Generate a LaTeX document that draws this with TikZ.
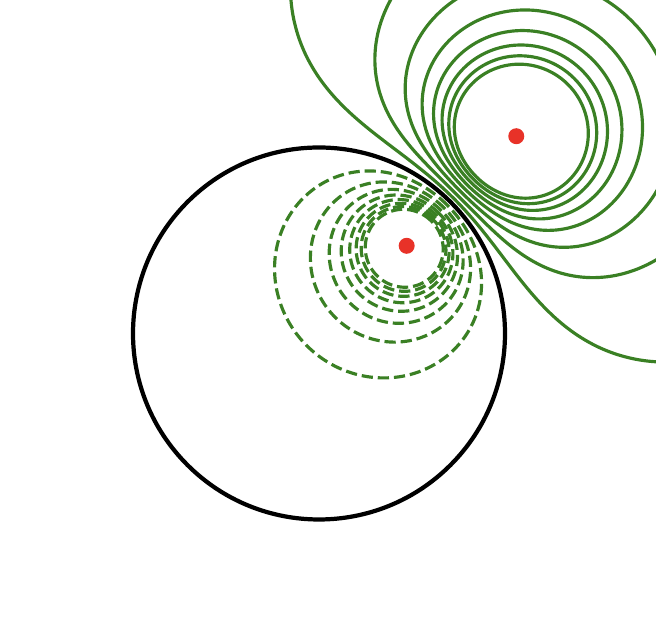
\documentclass[tikz,border=0pt]{standalone}
\definecolor{cgreen}{RGB}{58,128,36}
\definecolor{cred}{RGB}{232,50,40}
\tikzset{
  solidc/.style={draw=cgreen, line width=1.8pt},
  dashc/.style={draw=cgreen, line width=1.8pt, dash pattern=on 6.4pt off 2.8pt},
  spherec/.style={draw=black, line width=2.4pt},
  charge/.style={circle, fill=cred, inner sep=0pt, minimum size=0.32cm},
  declare function={
    Ss(\a,\b,\t) = \a + (\b-\a)*(1-cos(\t))/2;
    Rtwo(\s,\v) = (2/3)*\s/(1-\v*\s);
    Xs(\s,\v) = (Rtwo(\s,\v)^2 - \s^2 - 25/36)/(5/3);
    Ys(\s,\v) = sqrt(max(0, \s^2 - Xs(\s,\v)^2));
    Rone(\s,\m) = \s/(2/3-\m*\s);
    Xd(\s,\m) = (\s^2 + 25/36 - Rone(\s,\m)^2)/(5/3);
    Yd(\s,\m) = sqrt(max(0, \s^2 - Xd(\s,\m)^2));
    Sg(\t) = sin(\t)/max(abs(sin(\t)),0.0001);
  }
}
\begin{document}
\begin{tikzpicture}
\useasboundingbox (0,0) rectangle (13.12,12.36);
\clip (0,0) rectangle (13.12,12.36);
\begin{scope}[shift={(6.38,5.69)}, scale=3.72, rotate=45]
  % equipotentials V>0 around the outer charge
  \foreach \lv in {0.25,0.5,0.75,1.0,1.25,1.5,1.75,2.0} {
    \pgfmathsetmacro{\smin}{((1+2/3+\lv*5/6) - sqrt((1+2/3+\lv*5/6)^2 - 4*\lv*5/6))/(2*\lv)}
    \pgfmathsetmacro{\smax}{(-(\lv*5/6-1+2/3) + sqrt((\lv*5/6-1+2/3)^2 + 4*\lv*5/6))/(2*\lv)}
    \draw[solidc] plot[domain=0:360, samples=241, smooth, variable=\t]
      ({1.5 + Xs(Ss(\smin,\smax,\t),\lv)}, {Sg(\t)*Ys(Ss(\smin,\smax,\t),\lv)}) -- cycle;
  }
  % equipotentials V<0 around the image charge
  \foreach \lv in {0.25,0.5,0.75,1.0,1.25,1.5,1.75,2.0} {
    \pgfmathsetmacro{\tmin}{((1+2/3+\lv*5/6) - sqrt((1+2/3+\lv*5/6)^2 - 4*\lv*(2/3)*(5/6)))/(2*\lv)}
    \pgfmathsetmacro{\tmax}{(-(1-2/3+\lv*5/6) + sqrt((1-2/3+\lv*5/6)^2 + 4*\lv*(2/3)*(5/6)))/(2*\lv)}
    \draw[dashc] plot[domain=0:360, samples=241, smooth, variable=\t]
      ({2/3 + Xd(Ss(\tmin,\tmax,\t),\lv)}, {Sg(\t)*Yd(Ss(\tmin,\tmax,\t),\lv)}) -- cycle;
  }
  \draw[spherec] (0,0) circle (1);
  \node[charge] (q) at (1.5,0) {};
  \node[charge] (qi) at (2/3,0) {};
\end{scope}
\end{tikzpicture}
\end{document}
